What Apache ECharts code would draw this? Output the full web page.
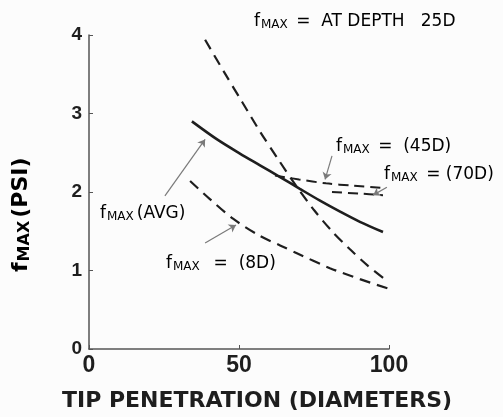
<!DOCTYPE html>
<html>

<head>
    <meta charset="utf-8">
    <title>fmax vs tip penetration</title>
    <script src="https://cdn.jsdelivr.net/npm/echarts@6/dist/echarts.min.js"></script>
</head>

<body style="margin:0;background:#fcfcfc;">
    <div id="main" style="width: 503px;height:417px;"></div>
    <script type="text/javascript">
        // tick labels
        var xTicks = [0, 50, 100];
        var yTicks = [0, 1, 2, 3, 4];

        // curves (x = diameters, y = psi)
        var avgX = [34.3, 42.7, 50.3, 57, 63.7, 70.3, 77, 83.7, 90.3, 98];
        var avgY = [2.90, 2.67, 2.49, 2.34, 2.19, 2.04, 1.89, 1.75, 1.62, 1.49];

        var d25X = [38.7, 45, 51, 57, 63, 69, 75, 81, 87, 93, 99.3];
        var d25Y = [3.94, 3.53, 3.15, 2.77, 2.42, 2.08, 1.77, 1.50, 1.27, 1.06, 0.87];

        var d8X = [33.7, 40.3, 48, 57, 63.7, 69.3, 80.3, 90.3, 99.7];
        var d8Y = [2.14, 1.91, 1.66, 1.44, 1.32, 1.22, 1.03, 0.89, 0.77];

        var d45X = [62, 70, 79, 88, 98];
        var d45Y = [2.21, 2.16, 2.11, 2.08, 2.05];

        var d70X = [81, 90, 98];
        var d70Y = [2.00, 1.98, 1.96];

        function pairs(xs, ys) {
            return xs.map(function (x, i) { return [x, ys[i]]; });
        }

        var ink = '#1e1e1e';
        var dashStyle = { color: ink, width: 2.2, type: [11, 7] };

        function curve(name, xs, ys, style) {
            return {
                name: name,
                type: 'line',
                data: pairs(xs, ys),
                smooth: 0.3,
                symbol: 'none',
                lineStyle: style,
                silent: true
            };
        }

        // arrows from each label to its curve, in data units
        var arrows = [
            [[53, 4.15], [41.7, 3.86]],
            [[25.3, 1.95], [38.7, 2.67]],
            [[38.7, 1.35], [49, 1.58]],
            [[81, 2.46], [78.7, 2.16]],
            [[99.3, 2.06], [94.7, 1.96]]
        ];

        var rich = {
            f: { fontSize: 17, lineHeight: 18, verticalAlign: 'top', fontFamily: 'DejaVu Sans', color: ink },
            s: { fontSize: 12, lineHeight: 6, verticalAlign: 'bottom', fontFamily: 'DejaVu Sans', color: ink, padding: [0, 3, 0, 1] },
            t: { fontSize: 17, lineHeight: 18, verticalAlign: 'top', fontFamily: 'DejaVu Sans', color: ink }
        };

        function note(x, y, rest) {
            return {
                type: 'text',
                x: x,
                y: y,
                silent: true,
                style: { text: '{f|f}{s|MAX}{t|' + rest + '}', rich: rich }
            };
        }

        var chart = echarts.init(document.getElementById('main'));
        chart.setOption({
            backgroundColor: '#fcfcfc',
            animation: false,
            grid: { left: 89, right: 114, top: 35, bottom: 66 },
            xAxis: {
                type: 'value',
                min: xTicks[0],
                max: xTicks[xTicks.length - 1],
                interval: 50,
                name: 'TIP PENETRATION (DIAMETERS)',
                nameLocation: 'middle',
                nameGap: 41,
                nameTextStyle: {
                    fontFamily: 'DejaVu Sans', fontSize: 22, fontWeight: 'bold', color: ink,
                    padding: [0, 0, 0, 36]
                },
                axisLine: { lineStyle: { color: '#555', width: 1.5 } },
                axisTick: { inside: true, length: 4, lineStyle: { color: '#555' } },
                axisLabel: { fontFamily: 'Liberation Sans', fontSize: 23, fontWeight: 'bold', color: ink, margin: 5 },
                splitLine: { show: false }
            },
            yAxis: {
                type: 'value',
                min: yTicks[0],
                max: yTicks[yTicks.length - 1],
                interval: 1,
                axisLine: { show: true, lineStyle: { color: '#555', width: 1.5 } },
                axisTick: { show: true, inside: true, length: 4, lineStyle: { color: '#555' } },
                axisLabel: { fontFamily: 'Liberation Sans', fontSize: 19, fontWeight: 'bold', color: ink, margin: 7 },
                splitLine: { show: false }
            },
            graphic: [
                {
                    type: 'text',
                    x: 10,
                    y: 272,
                    rotation: Math.PI / 2,
                    silent: true,
                    style: {
                        text: '{f|f}{s|MAX}{t|(PSI)}',
                        rich: {
                            f: { fontSize: 22, lineHeight: 23, verticalAlign: 'top', fontFamily: 'DejaVu Sans', fontWeight: 'bold', color: ink },
                            s: { fontSize: 16, lineHeight: 8, verticalAlign: 'bottom', fontFamily: 'DejaVu Sans', fontWeight: 'bold', color: ink, padding: [0, 3, 0, 1] },
                            t: { fontSize: 22, lineHeight: 23, verticalAlign: 'top', fontFamily: 'DejaVu Sans', fontWeight: 'bold', color: ink }
                        }
                    }
                },
                note(254, 13, ' =  AT DEPTH   25D'),
                note(100, 205, '(AVG)'),
                note(166, 255, '  =  (8D)'),
                note(336, 138, ' =  (45D)'),
                note(384, 166, ' = (70D)')
            ],
            series: [
                curve('avg', avgX, avgY, { color: ink, width: 2.6, type: 'solid' }),
                curve('25D', d25X, d25Y, dashStyle),
                curve('8D', d8X, d8Y, dashStyle),
                curve('45D', d45X, d45Y, { color: ink, width: 2, type: [10, 6] }),
                curve('70D', d70X, d70Y, { color: ink, width: 2, type: [10, 6] }),
                {
                    type: 'line',
                    data: [],
                    clip: false,
                    silent: true,
                    markLine: {
                        silent: true,
                        symbol: ['none', 'arrow'],
                        symbolSize: 7,
                        label: { show: false },
                        lineStyle: { color: '#7a7a7a', width: 1.2, type: 'solid' },
                        data: arrows.map(function (a) {
                            return [{ coord: a[0] }, { coord: a[1] }];
                        })
                    }
                }
            ]
        });
    </script>
</body>

</html>
